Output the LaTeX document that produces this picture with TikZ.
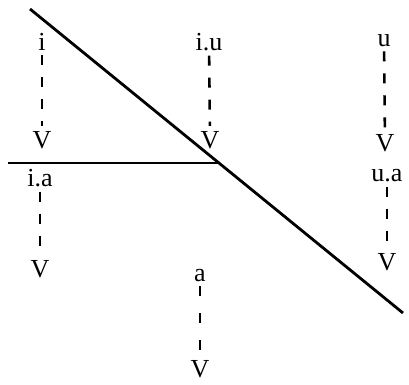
\documentclass[tikz,border=0pt]{standalone}
\usepackage{fontspec}
\setmainfont{Liberation Serif}
\begin{document}
\begin{tikzpicture}[x=1pt,y=-1pt,
  lab/.style={font=\fontsize{26}{28}\selectfont, inner sep=0pt, anchor=base},
  vee/.style={font=\fontsize{26}{28}\selectfont, inner sep=0pt, anchor=base},
  conn/.style={line width=2.6pt, dash pattern=on 10pt off 12pt, shorten <=5pt, shorten >=5pt},
  thick line/.style={line width=2.8pt}]
\useasboundingbox (0,0) rectangle (409,384);
% main lines
\coordinate (d1) at (30,9);
\coordinate (d2) at (403,313);
\coordinate (h1) at (8,163);
\coordinate (h2) at (219,163);
\draw[thick line] (d1) -- (d2);
\draw[line width=2.5pt] (h1) -- (h2);
% labels
\node[lab] (i)  at (42,50) {i};
\node[lab] (iu) at (209,50) {i.u};
\node[lab] (u)  at (384,46) {u};
\node[lab] (ia) at (40,186) {i.a};
\node[lab] (ua) at (387,181) {u.a};
\node[lab] (a)  at (200,281) {a};
% arrowheads as V
\node[vee] (iV)  at (42,148) {V};
\node[vee] (iuV) at (210,148) {V};
\node[vee] (uV)  at (385,151) {V};
\node[vee] (iaV) at (40,277) {V};
\node[vee] (uaV) at (387,270) {V};
\node[vee] (aV)  at (200,377) {V};
% dashed connectors
\draw[conn] (i) -- (iV);
\draw[conn] (iu) -- (iuV);
\draw[conn] (u) -- (uV);
\draw[conn] (ia) -- (iaV);
\draw[conn] (ua) -- (uaV);
\draw[conn, dash pattern=on 10pt off 17pt, shorten >=6pt] (a) -- (aV);
\end{tikzpicture}
\end{document}
